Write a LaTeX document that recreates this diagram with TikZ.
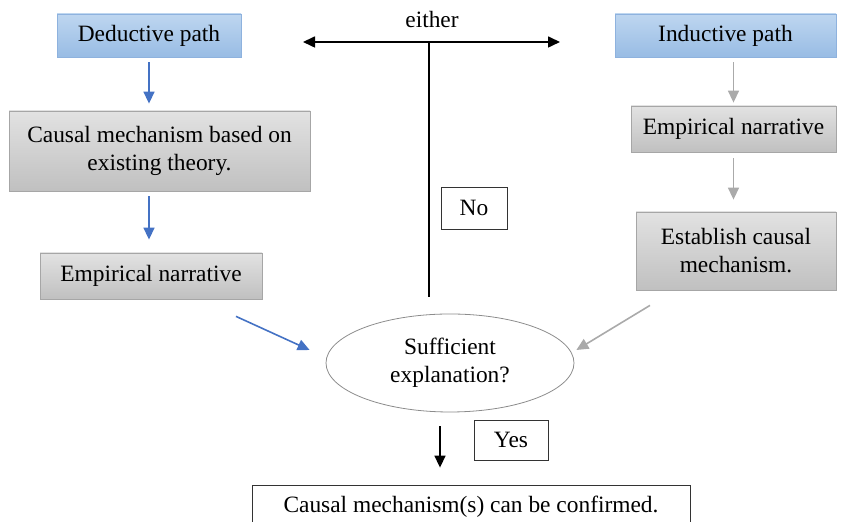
\documentclass[tikz,border=0pt]{standalone}
\usepackage{fontspec}
\setmainfont{Liberation Serif}
\usetikzlibrary{positioning, shapes.geometric, arrows.meta}

\definecolor{pathborder}{RGB}{142,178,222}
\definecolor{pathtop}{RGB}{190,214,240}
\definecolor{pathbottom}{RGB}{152,188,228}
\definecolor{stepborder}{RGB}{166,166,166}
\definecolor{steptop}{RGB}{226,226,226}
\definecolor{stepbottom}{RGB}{192,192,192}
\definecolor{deducblue}{RGB}{68,114,196}
\definecolor{inducgray}{RGB}{170,170,170}

\begin{document}
\begin{tikzpicture}[
  x=0.5pt,
  y=-0.5pt,
  font=\fontsize{11.7}{14}\selectfont,
  pathbox/.style={
    draw=pathborder,
    top color=pathtop,
    bottom color=pathbottom,
    minimum height=21.5pt,
    inner sep=2pt
  },
  stepbox/.style={
    draw=stepborder,
    top color=steptop,
    bottom color=stepbottom,
    align=center,
    inner sep=2pt
  },
  labelbox/.style={
    draw=black!80,
    fill=white,
    inner sep=2pt
  },
  decision/.style={
    draw=black!45,
    ellipse,
    align=center,
    minimum width=124pt,
    minimum height=49pt,
    inner sep=0pt
  },
  deduc/.style={->, draw=deducblue, thick},
  induc/.style={->, draw=inducgray, thick},
  >={Triangle[length=6pt, width=5.5pt]}
]

\useasboundingbox (0,0) rectangle (843,522);

% Deductive path
\node[pathbox, minimum width=92pt] (deductive) at (149,35.5) {Deductive path};
\node[stepbox, minimum width=150.5pt, minimum height=40pt] (theory) at (159.5,151)
  {Causal mechanism based on\\existing theory.};
\node[stepbox, minimum width=111pt, minimum height=23pt] (narrativeL) at (151,276)
  {Empirical narrative};

% Inductive path
\node[pathbox, minimum width=110.5pt] (inductive) at (725.5,35.5) {Inductive path};
\node[stepbox, minimum width=102.5pt, minimum height=23pt] (narrativeR) at (733.5,129)
  {Empirical narrative};
\node[stepbox, minimum width=100pt, minimum height=39pt] (establish) at (736,251)
  {Establish causal\\mechanism.};

% Decision
\node[decision] (sufficient) at (450,363) {Sufficient\\explanation?};
\node[labelbox, minimum width=33pt, minimum height=21pt] (no) at (474,208) {No};
\node[labelbox, minimum width=37pt, minimum height=20pt] (yes) at (511,440) {Yes};
\node[labelbox, minimum width=219pt, minimum height=22pt] (confirmed) at (471,507)
  {Causal mechanism(s) can be confirmed.};

% Loop back
\coordinate (split) at (429,42);
\coordinate (left) at (303,42);
\coordinate (right) at (560,42);
\coordinate (loop) at (429,297);
\node (either) at (432,20) {either};

% Relationships
\draw[deduc, shorten <=2.5pt, shorten >=3.5pt] (deductive.south) -- (deductive.south |- theory.north);
\draw[deduc, shorten <=2.5pt, shorten >=6.5pt] (deductive.south |- theory.south) -- (deductive.south |- narrativeL.north);
\draw[deduc] ([shift={(85,17)}]narrativeL.south) -- ([shift={(-16,-13)}]sufficient.west);
\draw[induc, shorten <=2.5pt, shorten >=1.5pt] (inductive.south -| narrativeR) -- (narrativeR.north);
\draw[induc, shorten <=3pt, shorten >=6pt] (narrativeR.south) -- (narrativeR |- establish.north);
\draw[induc] ([shift={(-86,15)}]establish.south) -- ([shift={(2,-13)}]sufficient.east);
\draw[very thick] (loop) -- (split);
\draw[<->, thick] (left) -- (right);
\draw[->, thick] ([shift={(-10,14)}]sufficient.south) -- ([shift={(-31,-17)}]confirmed.north);

\end{tikzpicture}
\end{document}
